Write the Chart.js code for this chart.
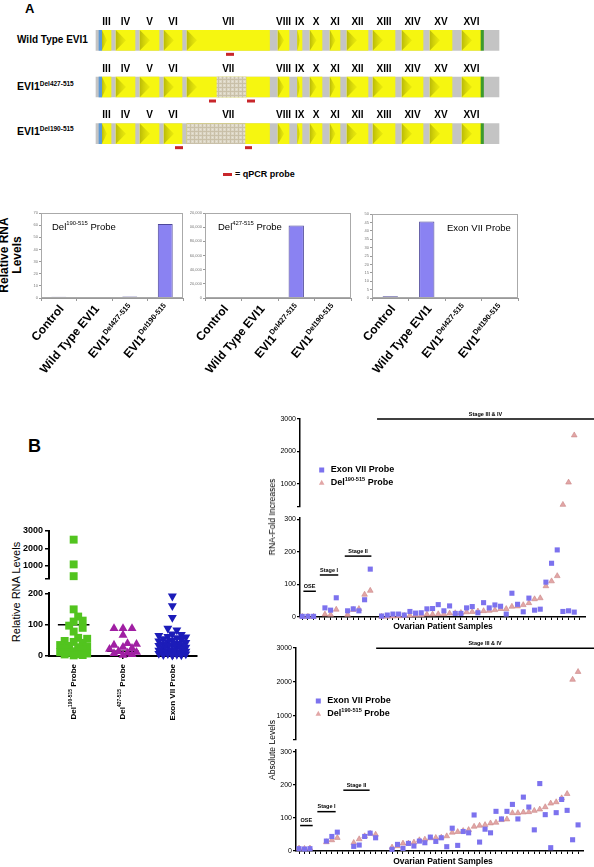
<!DOCTYPE html>
<html><head><meta charset="utf-8">
<script src="https://cdn.jsdelivr.net/npm/chart.js@4.4.0/dist/chart.umd.min.js"></script>
<style>
html,body{margin:0;padding:0;background:#fff;}
#root{position:relative;width:594px;height:867px;overflow:hidden;font-family:"Liberation Sans",Arial,Helvetica,sans-serif;}
canvas{position:absolute;}
.t{position:absolute;white-space:nowrap;color:#000;}
sup{font-size:0.62em;vertical-align:0.55em;line-height:0;}
</style></head><body><div id="root"></div>
<script>
// ================= DATA =================
// Panel A – gene structure (relative transcript units)
const geneRows = ['Wild Type EVI1','EVI1^{Del427-515}','EVI1^{Del190-515}'];
const exonNames = ['III','IV','V','VI','VII','VIII','IX','X','XI','XII','XIII','XIV','XV','XVI'];
const exonStart = [6,20,44,68,91,182,201.5,214,234,251,277,306,334,366];
const exonEnd   = [15,39,63,86,173.5,193,206,226,244,272,299,327,356,385];
const transcriptLength = 403;
const startMark = [3,5.7];
const stopMark = [385,387.5];
const deletedRegion = [null,[121,150],[91,149]];
const probeRow  = [0,1,1,2,2];
const probeFrom = [130,113,151,79,149];
const probeTo   = [138,120,159,87,156];

// Panel A – qPCR bar charts
const barCategories = ['Control','Wild Type EVI1','EVI1^{Del427-515}','EVI1^{Del190-515}'];
const del190ProbeLevels = [1.0,0.6,1.2,61];
const del427ProbeLevels = [150,100,102500,150];
const exonVIIProbeLevels = [1.0,45.5,0,0.3];
const del190ProbeTicks = [0,10,20,30,40,50,60,70];
const del427ProbeTicks = [0,20000,40000,60000,80000,100000,120000];
const exonVIIProbeTicks = [0,5,10,15,20,25,30,35,40,45,50];

// Panel B – dot plot
const dotGroups = ['Del^{190-515} Probe','Del^{427-515} Probe','Exon VII Probe'];
const dotDel190 = [2500,1070,390,149,126,113,110,97,90,78,58,55,48,45,42,35,32,30,28,25,20,15,12,10,8,6,5,3,2];
const dotDel427 = [88,88,88,67,40,38,35,28,25,22,15,12,10,8,5,3];
const dotExonVII = [191,160,123,88,83,70,68,65,62,60,58,55,52,50,48,45,43,40,38,36,35,33,30,28,27,25,22,20,18,16,15,13,12,10,9,8,7,6,5,4,3,2];
const dotCenterLines = [100,15,40];
const dotUpperTicks = [1000,2000,3000];
const dotLowerTicks = [0,100,200];

// Panel B – patient samples
const stageNames = ['OSE','Stage I','Stage II','Stage III & IV'];
const stageSizes = [3,3,5,35];
const foldExonVII = [2,2,2, 28,21,59, 19,25,19,53,147, 3,6,9,9,6,17,12,13,25,26,38,19,34,11,11,28,32,13,44,28,37,33,9,73,39,16,58,21,24,107,165,206,17,19,15];
const foldDel190 = [1,1,1, 8,7,23, 7,22,25,69,81, 1,1.5,2,3,4,5,5.5,6,8,8,9,9,11,12,13,15,16,17.5,18.5,19.6,21.6,25,25,32,33,37,43,55,58,95,110,126,365,1050,2500];
const absExonVII = [7,6,7, 30,44,57, 14,18,44,54,40, 5,20,8,23,15,30,25,42,29,40,13,69,17,59,55,109,27,66,55,120,97,120,141,97,163,133,64,204,110,10,116,156,123,34,79];
const absDel190 = [8,7,8, 27,33,40, 25,36,45,53,50, 11,15,23,23,26,33,35,39,40,41,45,56,58,61,64,74,77,79,84,86,94,96,115,115,117,118,122,126,133,144,148,160,173,2070,2300];
const foldStageSpan = [[0.2,2.4],[3.1,6.35],[7.5,12.2],[13.2,60]];
const foldStageLevel = [79,129,187,3000];
const absStageSpan = [[0.2,2.5],[3.35,6.7],[8.1,12.9],[14.1,60]];
const absStageLevel = [77,119,184,2990];
const brokenUpperTicks = [1000,2000,3000];
const brokenLowerTicks = [0,100,200,300];

// ================= HELPERS =================
const FONT = '"Liberation Sans", Arial, Helvetica, sans-serif';
Chart.defaults.font.family = FONT;
Chart.defaults.color = '#000';
const root = document.getElementById('root');

function parseRich(s){
  const parts=[]; const re=/\^\{([^}]*)\}/g; let last=0,m;
  while((m=re.exec(s))){ if(m.index>last) parts.push({t:s.slice(last,m.index),sup:false}); parts.push({t:m[1],sup:true}); last=re.lastIndex; }
  if(last<s.length) parts.push({t:s.slice(last),sup:false});
  return parts;
}
function drawRich(ctx,s,x,y,o){
  o=o||{}; const size=o.size||10, weight=o.weight||'normal', align=o.align||'left', angle=o.angle||0;
  const parts=parseRich(s);
  ctx.save(); ctx.translate(x,y); ctx.rotate(angle); ctx.fillStyle=o.color||'#000'; ctx.textBaseline='middle'; ctx.textAlign='left';
  let w=0; const fs=parts.map(p=>{const f=weight+' '+(p.sup?size*0.62:size)+'px '+FONT; ctx.font=f; const pw=ctx.measureText(p.t).width; w+=pw; return {f,pw};});
  let cx = align==='right'?-w:(align==='center'?-w/2:0);
  parts.forEach((p,i)=>{ctx.font=fs[i].f; ctx.fillText(p.t,cx,p.sup?-size*0.36:0); cx+=fs[i].pw;});
  ctx.restore();
}
function addText(s,x,y,o){
  o=o||{}; const d=document.createElement('div'); d.className='t';
  d.innerHTML=s.replace(/\^\{([^}]*)\}/g,'<sup>$1</sup>');
  d.style.left=x+'px'; d.style.top=y+'px'; d.style.fontSize=(o.size||10)+'px';
  d.style.fontWeight=o.bold?'bold':'normal'; d.style.lineHeight=(o.lh||Math.round((o.size||10)*1.15))+'px';
  if(o.align) d.style.textAlign=o.align;
  const ax=o.anchor==='center'?'-50%':(o.anchor==='right'?'-100%':'0');
  d.style.transform='translate('+ax+',-50%)'+(o.rot?' rotate('+o.rot+'deg)':'');
  root.appendChild(d); return d;
}
function mkCanvas(x,y,w,h){
  const c=document.createElement('canvas'); c.width=w; c.height=h;
  c.style.left=x+'px'; c.style.top=y+'px'; c.style.width=w+'px'; c.style.height=h+'px';
  root.appendChild(c); return c;
}
const baseOpts = {responsive:false, animation:false, devicePixelRatio:1,
  plugins:{legend:{display:false}, tooltip:{enabled:false}}};

// ================= PANEL A : gene diagram =================
addText('A',25,8,{size:13,bold:true});
addText(geneRows[0],17,40,{size:10,bold:true});
addText(geneRows[1],17,86,{size:10.5,bold:true});
addText(geneRows[2],17,131,{size:10.5,bold:true});

function burlap(){
  const c=document.createElement('canvas'); c.width=4; c.height=4; const x=c.getContext('2d');
  x.fillStyle='#ddd7c6'; x.fillRect(0,0,4,4); x.fillStyle='#c9c0a8'; x.fillRect(0,0,4,1); x.fillRect(0,0,1,4);
  x.fillStyle='#e9e5d8'; x.fillRect(2,2,1,1);
  return x.createPattern(c,'repeat');
}
const rowsIdx=[0,1,2];
const geneDecor={id:'geneDecor', afterDatasetsDraw(chart){
  const {ctx,scales:{x,y}}=chart;
  rowsIdx.forEach(r=>{
    const yc=y.getPixelForValue(r), top=yc-10, bot=yc+10, del=deletedRegion[r];
    exonStart.forEach((s,i)=>{
      const e=exonEnd[i];
      drawRich(ctx,exonNames[i],x.getPixelForValue((s+e)/2),top-8,{size:10,weight:'bold',align:'center'});
      if(del && s>=del[0]-0.5 && s<del[1]) return;
      const x0=x.getPixelForValue(s); const tw=Math.min(10,(x.getPixelForValue(e)-x0)*0.55);
      const g=ctx.createLinearGradient(x0,0,x0+tw,0); g.addColorStop(0,'rgba(140,140,0,0.55)'); g.addColorStop(1,'rgba(200,200,0,0.25)');
      ctx.fillStyle=g; ctx.beginPath(); ctx.moveTo(x0,top); ctx.lineTo(x0+tw,yc); ctx.lineTo(x0,bot); ctx.closePath(); ctx.fill();
    });
  });
  ctx.fillStyle='#c8262b';
  probeRow.forEach((r,i)=>{
    const yc=y.getPixelForValue(r)+14; const x0=x.getPixelForValue(probeFrom[i]), x1=x.getPixelForValue(probeTo[i]);
    ctx.fillRect(x0,yc-1.5,x1-x0,3);
  });
}};
new Chart(mkCanvas(90,15,415,145),{type:'bar',
  data:{labels:geneRows, datasets:[
    {data:deletedRegion, backgroundColor:burlap(), order:0},
    {data:rowsIdx.map(()=>startMark), backgroundColor:'#5d9ad6', order:1},
    {data:rowsIdx.map(()=>stopMark), backgroundColor:'#3c9a2c', order:1},
    ...exonStart.map((s,i)=>({data:rowsIdx.map(()=>[s,exonEnd[i]]), backgroundColor:'#f6f610', order:2})),
    {data:rowsIdx.map(()=>[0,transcriptLength]), backgroundColor:'#c4c4c4', order:3}
  ]},
  options:{...baseOpts, indexAxis:'y', layout:{autoPadding:false, padding:{top:2,bottom:3,left:0,right:0}},
    datasets:{bar:{grouped:false, barThickness:20, borderWidth:0}},
    scales:{x:{type:'linear',min:-6,max:409,display:false}, y:{type:'category',display:false}}},
  plugins:[geneDecor]});

// legend for probe
(function(){const d=document.createElement('div'); d.style.cssText='position:absolute;left:223px;top:172.5px;width:9px;height:3px;background:#c8262b;'; root.appendChild(d);})();
addText('= qPCR probe',235,174,{size:9,bold:true});

// ================= PANEL A : bar charts =================
addText('Relative RNA<br>Levels',11,255,{size:12,bold:true,anchor:'center',rot:-90,align:'center',lh:13});
function barA(cfg){
  const c=mkCanvas(cfg.left,200,170,180);
  return new Chart(c,{type:'bar',
    data:{labels:barCategories, datasets:[{data:cfg.values, backgroundColor:'#8a82f2', borderColor:'#4d4799', borderWidth:1, categoryPercentage:1, barPercentage:0.42}]},
    options:{...baseOpts, layout:{autoPadding:false, padding:{top:cfg.padTop,right:cfg.padRight,left:0,bottom:0}},
      scales:{
        x:{afterFit:s=>{s.height=82;}, ticks:{display:false}, grid:{offset:true,drawOnChartArea:false,tickLength:3,color:'#999'}, border:{color:'#999'}},
        y:{min:0,max:cfg.ticks[cfg.ticks.length-1], afterFit:s=>{s.width=cfg.yW;}, afterBuildTicks:s=>{s.ticks=cfg.ticks.map(v=>({value:v}));},
           ticks:{font:{size:4},color:'#777',padding:1}, grid:{drawOnChartArea:false,tickLength:2,color:'#999'}, border:{color:'#999'}}}},
    plugins:[{id:'aDecor', afterDraw(ch){
      const {ctx,chartArea:a,scales:{x}}=ch;
      ctx.save(); ctx.strokeStyle='#aaa'; ctx.lineWidth=1; ctx.strokeRect(a.left+0.5,a.top+0.5,a.width-1,a.height-1); ctx.restore();
      drawRich(ctx,cfg.title,a.left+cfg.titleDx,a.top+14,{size:9.5});
      barCategories.forEach((l,i)=>drawRich(ctx,l,x.getPixelForValue(i)+3,a.bottom+9,{size:12,weight:'bold',align:'right',angle:-50*Math.PI/180}));
    }}]});
}
barA({left:20,padTop:13,padRight:7,yW:21,values:del190ProbeLevels,ticks:del190ProbeTicks,title:'Del^{190-515} Probe',titleDx:11});
barA({left:190,padTop:13,padRight:9,yW:15,values:del427ProbeLevels,ticks:del427ProbeTicks,title:'Del^{427-515} Probe',titleDx:13});
barA({left:360,padTop:14,padRight:12,yW:12,values:exonVIIProbeLevels,ticks:exonVIIProbeTicks,title:'Exon VII Probe',titleDx:75});

// ================= PANEL B : dot plot =================
addText('B',28,446,{size:18,bold:true});
addText('Relative RNA Levels',16,592,{size:11,anchor:'center',rot:-90});
const dotSeries=[dotDel190,dotDel427,dotExonVII];
const dotStyles=[
  {pointStyle:'rect',pointRadius:5.6,backgroundColor:'#52c41f',rotation:0},
  {pointStyle:'triangle',pointRadius:5.2,backgroundColor:'#a01fa3',rotation:0},
  {pointStyle:'triangle',pointRadius:5.2,backgroundColor:'#1c1cb9',rotation:180}];
const DOT_LOW_MAX=200, DOT_UP_MIN=250;
function swarm(vals,pxPerVal,step,minD,maxK,unitPerPx){
  const order=vals.map((v,i)=>i).sort((a,b)=>vals[a]-vals[b]);
  const placed=[]; const off=new Array(vals.length).fill(0);
  order.forEach(i=>{
    const py=vals[i]*pxPerVal; let best=0,bestScore=-1;
    for(let k=0;k<=2*maxK;k++){
      const o=k===0?0:(k%2?1:-1)*Math.ceil(k/2); const px=o*step;
      let md=Infinity; placed.forEach(p=>{const d=Math.hypot(p.x-px,p.y-py); if(d<md) md=d;});
      if(md>=minD){best=px;break;}
      if(md>bestScore){bestScore=md;best=px;}
    }
    placed.push({x:best,y:py}); off[i]=best*unitPerPx;
  });
  return off;
}
function dotData(upper){
  return dotSeries.map((vals,g)=>{
    const sel=vals.filter(v=>upper?v>DOT_LOW_MAX:v<=DOT_LOW_MAX);
    const off=swarm(sel,upper?52/2750:63/200,4.5,6,3,3/148);
    return sel.map((v,i)=>({x:g+off[i],y:v}));
  });
}
function dotDatasets(upper){
  return dotData(upper).map((d,g)=>({type:'scatter',data:d,...dotStyles[g],borderWidth:0,clip:false}));
}
const yDot=(min,max,ticks,w,capMin)=>({min,max,afterFit:s=>{s.width=w;},
  afterBuildTicks:s=>{s.ticks=(capMin?[min]:[]).concat(ticks).map(v=>({value:v}));},
  ticks:{font:{size:9,weight:'bold'},color:'#000',padding:2,callback:v=>(capMin&&v===min)?'':String(v)},
  grid:{drawOnChartArea:false,tickLength:4,color:'#000',lineWidth:1.5}, border:{color:'#000',width:2}});
new Chart(mkCanvas(0,522,200,64),{type:'scatter',data:{datasets:dotDatasets(true)},
  options:{...baseOpts, layout:{autoPadding:false,padding:{top:9,bottom:3,right:3,left:0}},
    scales:{x:{type:'linear',min:-0.5,max:2.5,display:false}, y:yDot(DOT_UP_MIN,3000,dotUpperTicks,49,true)}}});
new Chart(mkCanvas(0,586,200,144),{type:'scatter',
  data:{datasets:[...dotDatasets(false),
    ...dotCenterLines.map((m,g)=>({type:'line',data:[{x:g-0.32,y:m},{x:g+0.32,y:m}],borderColor:'#000',borderWidth:1.6,pointRadius:0,showLine:true}))]},
  options:{...baseOpts, layout:{autoPadding:false,padding:{top:7,right:3,left:0,bottom:0}},
    scales:{x:{type:'linear',min:-0.5,max:2.5,afterFit:s=>{s.height=74;},afterBuildTicks:s=>{s.ticks=[0,1,2].map(v=>({value:v}));},
        ticks:{display:false},grid:{drawOnChartArea:false,tickLength:3,color:'#000',lineWidth:1.5},border:{color:'#000',width:2}},
      y:yDot(0,DOT_LOW_MAX,dotLowerTicks,49,false)}},
  plugins:[{id:'dotLabels',afterDraw(ch){const {ctx,chartArea:a,scales:{x}}=ch;
    dotGroups.forEach((g,i)=>drawRich(ctx,g,x.getPixelForValue(i),a.bottom+8,{size:8,weight:'bold',align:'right',angle:-Math.PI/2}));}}]});

// ================= PANEL B : patient samples (broken axes) =================
function sampleX(gap){const xs=[];let pos=0;stageSizes.forEach(n=>{for(let k=0;k<n;k++)xs.push(pos++);pos+=gap;});return xs;}
function brokenPanel(p){
  const xs=sampleX(p.gap); const LOW_MAX=p.lowMax;
  const pts=(vals,upper)=>vals.map((v,i)=>({x:xs[i],y:v})).filter(d=>upper?d.y>LOW_MAX:d.y<=LOW_MAX);
  const exonStyle={pointStyle:'rect',pointRadius:3.6,backgroundColor:'#7c72ee',borderWidth:0,clip:false};
  const delStyle={pointStyle:'triangle',pointRadius:3.3,backgroundColor:'#e2a6a6',borderColor:'#c98585',borderWidth:0.6,clip:false};
  const xTicks=[]; for(let i=0;i<=p.nTicks;i++) xTicks.push({value:i});
  const yAx=(min,max,ticks,capMin)=>({min,max,afterFit:s=>{s.width=p.yW;},
    afterBuildTicks:s=>{s.ticks=(capMin?[min]:[]).concat(ticks).map(v=>({value:v}));},
    ticks:{font:{size:7},color:'#000',padding:1,callback:v=>(capMin&&v===min)?'':String(v)},
    grid:{drawOnChartArea:false,tickLength:3,color:'#000',lineWidth:1.2},border:{color:'#000',width:1.5}});
  const decor=(upper)=>({id:'rd',afterDraw(ch){
    const {ctx,scales:{x,y}}=ch;
    stageNames.forEach((nm,s)=>{
      const lv=p.stageLevel[s]; if(lv<y.min-1||lv>y.max+1) return;
      const x0=x.getPixelForValue(p.stageSpan[s][0]); const x1=Math.min(ch.width,x.getPixelForValue(p.stageSpan[s][1]));
      const yy=y.getPixelForValue(Math.min(lv,y.max));
      ctx.save(); ctx.strokeStyle='#000'; ctx.lineWidth=1.5; ctx.beginPath(); ctx.moveTo(x0,yy); ctx.lineTo(x1,yy); ctx.stroke(); ctx.restore();
      drawRich(ctx,nm,(x0+x1)/2,yy-5,{size:5.5,weight:'bold',align:'center'});
    });
    if(upper){
      ctx.fillStyle='#7c72ee'; ctx.fillRect(p.legX-2.5,p.legY1-2.5,5,5);
      ctx.fillStyle='#e2a6a6'; ctx.beginPath(); ctx.moveTo(p.legX,p.legY2-3); ctx.lineTo(p.legX+2.8,p.legY2+2); ctx.lineTo(p.legX-2.8,p.legY2+2); ctx.closePath(); ctx.fill();
      drawRich(ctx,'Exon VII Probe',p.legX+9,p.legY1,{size:9,weight:'bold'});
      drawRich(ctx,'Del^{190-515} Probe',p.legX+9,p.legY2,{size:9,weight:'bold'});
    }
  }});
  new Chart(mkCanvas(255,p.topU,339,p.hU),{type:'scatter',
    data:{datasets:[{data:pts(p.exon,true),...exonStyle},{data:pts(p.del,true),...delStyle}]},
    options:{...baseOpts,layout:{autoPadding:false,padding:{top:p.padTopU,bottom:p.padBotU,right:p.padR,left:0}},
      scales:{x:{type:'linear',min:p.xMin,max:p.xMax,display:false},y:yAx(p.upMin,3000,brokenUpperTicks,true)}},
    plugins:[decor(true)]});
  new Chart(mkCanvas(255,p.topL,339,p.hL),{type:'scatter',
    data:{datasets:[{data:pts(p.exon,false),...exonStyle},{data:pts(p.del,false),...delStyle}]},
    options:{...baseOpts,layout:{autoPadding:false,padding:{top:p.padTopL,bottom:0,right:p.padR,left:0}},
      scales:{x:{type:'linear',min:p.xMin,max:p.xMax,afterFit:s=>{s.height=p.xH;},afterBuildTicks:s=>{s.ticks=xTicks.slice();},
          ticks:{display:false},grid:{drawOnChartArea:false,tickLength:3,color:'#000',lineWidth:1},border:{color:'#000',width:1.5}},
        y:yAx(0,p.lowTop,brokenLowerTicks,false)}},
    plugins:[decor(false)]});
  addText(p.yTitle,272,p.yTitleY,{size:8.5,anchor:'center',rot:-90});
  addText('Ovarian Patient Samples',443,p.xTitleY,{size:8.5,bold:true,anchor:'center'});
}
brokenPanel({gap:1,exon:foldExonVII,del:foldDel190,lowMax:300,lowTop:304,upMin:300,
  topU:405,hU:107,padTopU:14,padBotU:2,topL:512,hL:125,padTopL:6,xH:20,padR:9,yW:45,
  xMin:-0.4,xMax:49.9,nTicks:49,stageSpan:foldStageSpan,stageLevel:foldStageLevel,
  legX:66.7,legY1:65,legY2:77.7,yTitle:'RNA-Fold Increases',yTitleY:517,xTitleY:626});
brokenPanel({gap:2,exon:absExonVII,del:absDel190,lowMax:300,lowTop:305,upMin:300,
  topU:635,hU:110,padTopU:13,padBotU:2,topL:745,hL:122,padTopL:5,xH:16,padR:11,yW:41,
  xMin:-0.55,xMax:51.9,nTicks:51,stageSpan:absStageSpan,stageLevel:absStageLevel,
  legX:63.3,legY1:66,legY2:78.7,yTitle:'Absolute Levels',yTitleY:750,xTitleY:861});
</script></body></html>
